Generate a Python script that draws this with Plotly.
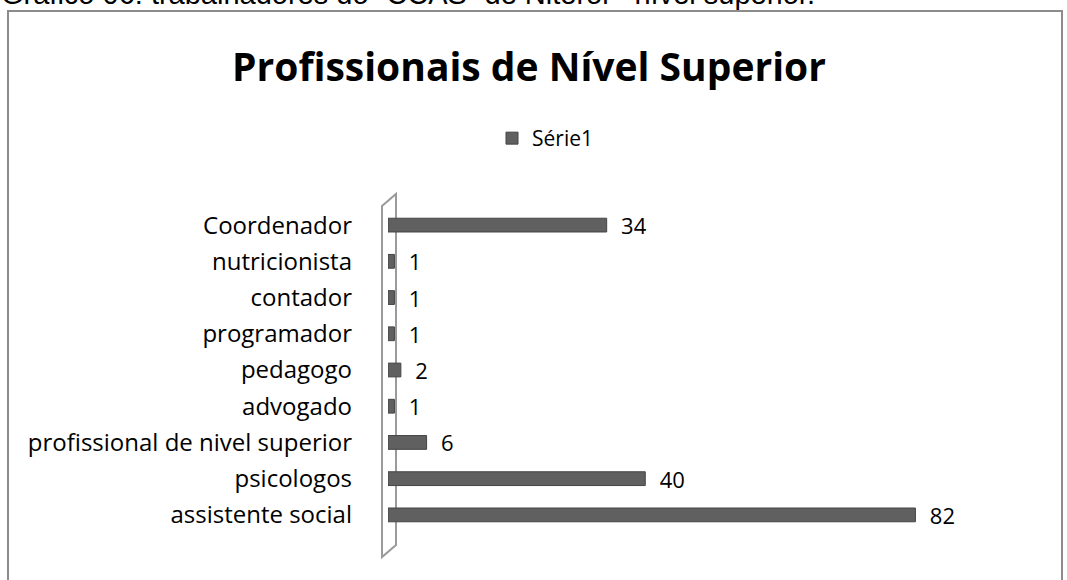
import plotly.graph_objects as go

categories = ["assistente social", "psicologos", "profissional de nivel superior",
              "advogado", "pedagogo", "programador", "contador", "nutricionista",
              "Coordenador"]
values = [82, 40, 6, 1, 2, 1, 1, 1, 34]
series_name = "Série1"
title_text = "Profissionais de Nível Superior"
caption = "Gráfico 06: trabalhadores do “CCAS” de Niterói - nível superior."

W, H = 1067, 580
L, R, T, B = 388, 113, 207, 47
PW, PH = W - L - R, H - T - B

def px(x):
    return (x - L) / PW

def py(y):
    return (H - B - y) / PH

FONT = "Open Sans"

fig = go.Figure()
fig.add_trace(go.Bar(
    y=categories, x=values, orientation="h", name=series_name,
    marker=dict(color="#606060", line=dict(color="#454545", width=1)),
    text=["\u00a0\u00a0" + str(v) for v in values], textposition="outside",
    constraintext="none",
    textfont=dict(family=FONT, size=22, color="#000000"),
    cliponaxis=False, showlegend=True,
))

shapes = [
    # outer chart border
    dict(type="rect", xref="paper", yref="paper",
         x0=px(8), x1=px(1062), y0=py(600), y1=py(11),
         line=dict(color="#8c8c8c", width=2), fillcolor="rgba(0,0,0,0)", layer="below"),
    # 3D wall
    dict(type="path", xref="paper", yref="paper",
         path=f"M {px(382)} {py(206)} L {px(396)} {py(194)} L {px(396)} {py(545)} "
              f"L {px(382)} {py(557)} Z",
         line=dict(color="#9a9a9a", width=2), fillcolor="rgba(0,0,0,0)", layer="below"),
]

fig.update_layout(
    width=W, height=H,
    margin=dict(l=L, r=R, t=T, b=B),
    paper_bgcolor="white", plot_bgcolor="white",
    bargap=0.62,
    title=dict(text=f"<b>{title_text}</b>", x=529 / W, xref="container", xanchor="center",
               y=1 - 67 / H, yanchor="middle",
               font=dict(family=FONT, size=39, color="#000000")),
    legend=dict(x=px(492), y=py(118), xanchor="left", yanchor="top",
                orientation="h", font=dict(family=FONT, size=21, color="#000000"),
                bgcolor="rgba(0,0,0,0)", itemwidth=30),
    xaxis=dict(range=[0, 88], visible=False, fixedrange=True),
    yaxis=dict(categoryorder="array", categoryarray=categories,
               showline=False, showgrid=False, ticks="", ticklabelstandoff=35,
               tickfont=dict(family=FONT, size=24, color="#000000")),
    shapes=shapes,
    annotations=[dict(text=caption, xref="paper", yref="paper", x=0, y=1,
                      xanchor="left", yanchor="middle", xshift=-L - 1, yshift=T + 6,
                      showarrow=False,
                      font=dict(family="Liberation Sans", size=29, color="#000000"))],
)

fig.write_html("out.html", post_script="document.body.style.margin='0px';",
               config={"displayModeBar": False})
